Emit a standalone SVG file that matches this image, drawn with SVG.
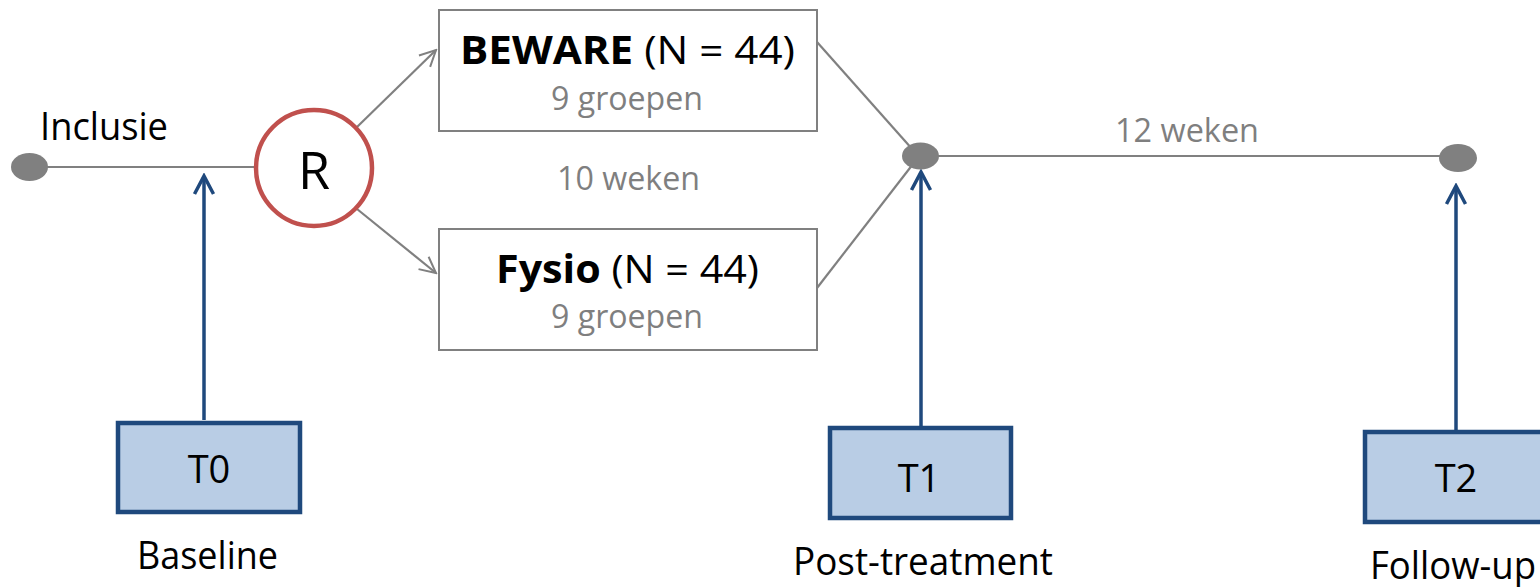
<svg xmlns="http://www.w3.org/2000/svg" width="1540" height="587" viewBox="0 0 1540 587">
<style>
text{font-family:"Open Sans","Liberation Sans",sans-serif;}
.blk{fill:#000000;font-size:38px;}
.big{fill:#000000;font-size:39px;}
.gry{fill:#7F7F7F;font-size:32px;}
.b{font-weight:bold;}
.gline{stroke:#808080;stroke-width:2.2;fill:none;}
.bline{stroke:#1F497D;stroke-width:3.5;fill:none;}
.gbox{fill:#FFFFFF;stroke:#808080;stroke-width:2;}
.tbox{fill:#B9CDE5;stroke:#1F497D;stroke-width:4.5;}
.dot{fill:#808080;}
</style>
<defs>
<marker id="ga" viewBox="0 0 20 20" refX="18" refY="10" markerWidth="20" markerHeight="20" markerUnits="userSpaceOnUse" orient="auto">
<path d="M2,2 L18,10 L2,18" fill="none" stroke="#808080" stroke-width="2"/>
</marker>
<marker id="ba" viewBox="0 0 24 24" refX="21" refY="12" markerWidth="24" markerHeight="24" markerUnits="userSpaceOnUse" orient="auto">
<path d="M3,2.5 L21,12 L3,21.5" fill="none" stroke="#1F497D" stroke-width="3.5"/>
</marker>
</defs>

<g id="connectors">
<line class="gline" x1="46" y1="167" x2="254" y2="167"/>
<line class="gline" x1="357" y1="127" x2="436" y2="50" marker-end="url(#ga)"/>
<line class="gline" x1="357" y1="209" x2="436" y2="273" marker-end="url(#ga)"/>
<line class="gline" x1="817" y1="42" x2="913" y2="150"/>
<line class="gline" x1="817" y1="288" x2="913" y2="164"/>
<line class="gline" x1="938" y1="156" x2="1442" y2="156"/>
<line class="bline" x1="204" y1="420" x2="204" y2="176" marker-end="url(#ba)"/>
<line class="bline" x1="921" y1="426" x2="921" y2="172" marker-end="url(#ba)"/>
<line class="bline" x1="1456" y1="430" x2="1456" y2="186" marker-end="url(#ba)"/>
</g>

<g id="inclusie">
<ellipse class="dot" cx="29.5" cy="167" rx="18.5" ry="14"/>
<text class="blk" x="40" y="140" textLength="128" lengthAdjust="spacingAndGlyphs">Inclusie</text>
</g>

<g id="randomisatie">
<circle cx="314" cy="168" r="58" fill="#FFFFFF" stroke="#C0504D" stroke-width="4.5"/>
<text x="314" y="189" font-size="52" fill="#000000" text-anchor="middle">R</text>
</g>

<g id="beware">
<rect class="gbox" x="439" y="10" width="378" height="121"/>
<text class="big" x="460" y="64" textLength="335" lengthAdjust="spacingAndGlyphs"><tspan class="b">BEWARE</tspan> (N = 44)</text>
<text class="gry" x="551" y="110" textLength="152" lengthAdjust="spacingAndGlyphs">9 groepen</text>
</g>

<g id="duur10">
<text class="gry" x="557" y="190" textLength="143" lengthAdjust="spacingAndGlyphs">10 weken</text>
</g>

<g id="fysio">
<rect class="gbox" x="439" y="229" width="378" height="121"/>
<text class="big" x="496" y="283" textLength="263" lengthAdjust="spacingAndGlyphs"><tspan class="b">Fysio</tspan> (N = 44)</text>
<text class="gry" x="551" y="328" textLength="152" lengthAdjust="spacingAndGlyphs">9 groepen</text>
</g>

<g id="junctie">
<ellipse class="dot" cx="920.5" cy="156" rx="18.5" ry="13.5"/>
</g>

<g id="duur12">
<text class="gry" x="1115" y="142" textLength="144" lengthAdjust="spacingAndGlyphs">12 weken</text>
</g>

<g id="eind">
<ellipse class="dot" cx="1458" cy="158" rx="19" ry="14"/>
</g>

<g id="t0">
<rect class="tbox" x="118" y="423" width="182" height="89"/>
<text class="blk" x="209" y="483" text-anchor="middle">T0</text>
<text class="blk" x="137" y="569" textLength="141" lengthAdjust="spacingAndGlyphs">Baseline</text>
</g>

<g id="t1">
<rect class="tbox" x="830" y="428" width="181" height="90"/>
<text class="blk" x="919" y="492" text-anchor="middle">T1</text>
<text class="blk" x="793" y="575" textLength="260" lengthAdjust="spacingAndGlyphs">Post-treatment</text>
</g>

<g id="t2">
<rect class="tbox" x="1365" y="432" width="190" height="90"/>
<text class="blk" x="1456" y="492" text-anchor="middle">T2</text>
<text class="blk" x="1370" y="579" textLength="166" lengthAdjust="spacingAndGlyphs">Follow-up</text>
</g>
</svg>
